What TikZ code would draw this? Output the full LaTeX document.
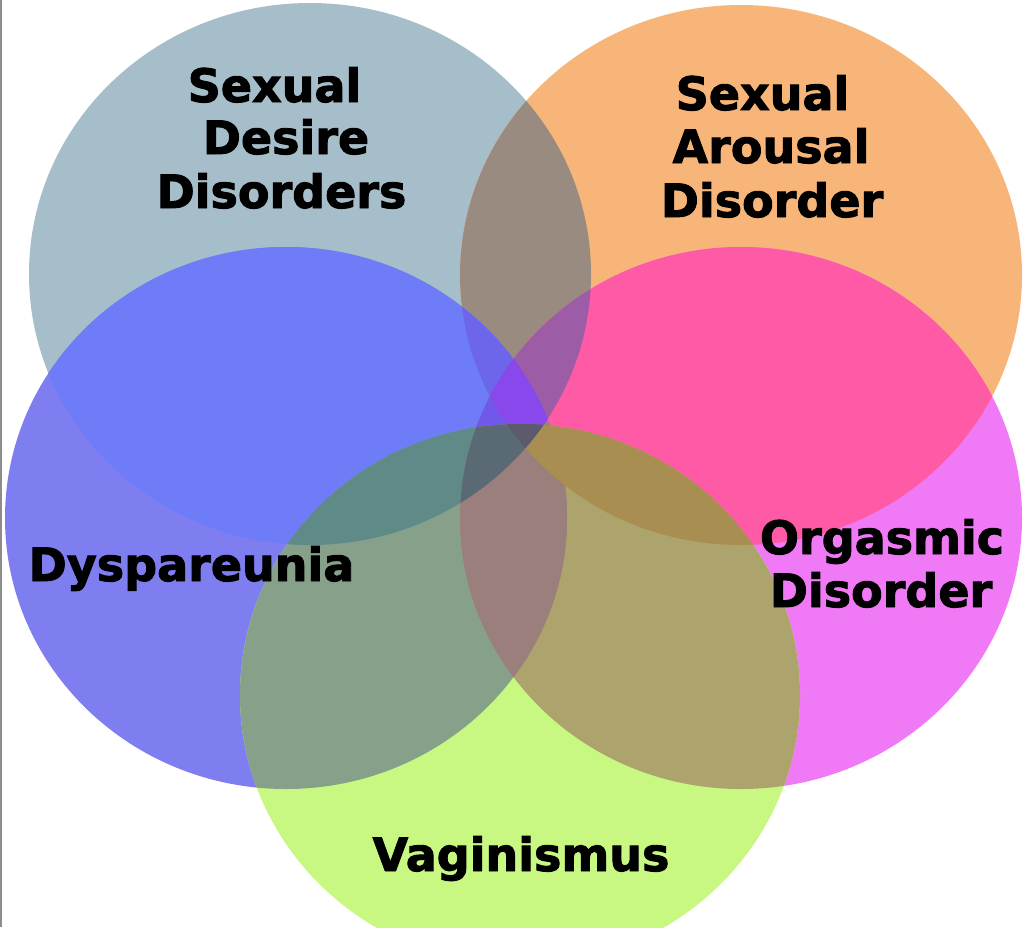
\documentclass[tikz,border=0pt]{standalone}
\usepackage{fontspec}
\setmainfont{DejaVu Sans}
\newfontfamily\lblfont{DejaVu Sans Bold}[FakeBold=2]
\begin{document}
\begin{tikzpicture}[x=1pt,y=-1pt,
  lbl/.style={font=\lblfont\fontsize{46}{53.5}\selectfont, text=black, inner sep=0pt, anchor=base}]
\definecolor{cG}{HTML}{A6BECA}
\definecolor{cO}{HTML}{F8B579}
\definecolor{cB}{HTML}{7F7EF1}
\definecolor{cP}{HTML}{F07AF6}
\definecolor{cV}{HTML}{C8F882}
\definecolor{cGO}{HTML}{9A8B80}
\definecolor{cGB}{HTML}{6F7CF8}
\definecolor{cOP}{HTML}{FF5AA6}
\definecolor{cBV}{HTML}{86A08A}
\definecolor{cPV}{HTML}{ACA46C}
\definecolor{cBP}{HTML}{9A7F7C}
\definecolor{cGOB}{HTML}{6E66EA}
\definecolor{cGOP}{HTML}{9C5CA6}
\definecolor{cGBV}{HTML}{5F8A87}
\definecolor{cOPV}{HTML}{A88E50}
\definecolor{cGBP}{HTML}{7058EA}
\definecolor{cGOBP}{HTML}{8848EC}
\definecolor{cGBPV}{HTML}{5A6A74}
\definecolor{cGOBPV}{HTML}{5C5A6C}
\def\cirG{(310,274) ellipse [x radius=281pt, y radius=271pt]}
\def\cirO{(741,275) ellipse [x radius=281pt, y radius=270pt]}
\def\cirB{(286,518) ellipse [x radius=281pt, y radius=271pt]}
\def\cirP{(741,518) ellipse [x radius=281pt, y radius=271pt]}
\def\cirV{(520,695) ellipse [x radius=280pt, y radius=271pt]}
\newcommand{\rgn}[3]{\begin{scope}#1\fill[#2] #3;\end{scope}}
\useasboundingbox (0,0) rectangle (1024,927);
\fill[white] (0,0) rectangle (1024,927);
\begin{scope}
\clip (0,0) rectangle (1024,927);
% single sets
\fill[cG] \cirG;
\fill[cO] \cirO;
\fill[cB] \cirB;
\fill[cP] \cirP;
\fill[cV] \cirV;
% pairs
\rgn{\clip \cirG;}{cGO}{\cirO}
\rgn{\clip \cirG;}{cGB}{\cirB}
\rgn{\clip \cirO;}{cOP}{\cirP}
\rgn{\clip \cirB;}{cBV}{\cirV}
\rgn{\clip \cirP;}{cPV}{\cirV}
\rgn{\clip \cirB;}{cBP}{\cirP}
% triples
\rgn{\clip \cirG;\clip \cirO;}{cGOB}{\cirB}
\rgn{\clip \cirG;\clip \cirO;}{cGOP}{\cirP}
\rgn{\clip \cirG;\clip \cirB;}{cGBP}{\cirP}
\rgn{\clip \cirG;\clip \cirB;}{cGBV}{\cirV}
\rgn{\clip \cirB;\clip \cirP;}{cBP}{\cirV}
\rgn{\clip \cirO;\clip \cirP;}{cOPV}{\cirV}
% quads
\rgn{\clip \cirG;\clip \cirO;\clip \cirB;}{cGOBP}{\cirP}
\rgn{\clip \cirG;\clip \cirB;\clip \cirP;}{cGBPV}{\cirV}
% all five
\rgn{\clip \cirG;\clip \cirO;\clip \cirB;\clip \cirP;}{cGOBPV}{\cirV}
\end{scope}
% left border line
\coordinate (lt) at (1,0);
\coordinate (lb) at (1,927);
\draw[line width=2pt, color=black!45] (lt) -- (lb);
% labels
\node[lbl] (sd1) at (274.5,102) {Sexual};
\node[lbl] (sd2) at (286,154) {Desire};
\node[lbl] (sd3) at (281.5,208) {Disorders};
\node[lbl] (sa1) at (762.5,110) {Sexual};
\node[lbl] (sa2) at (771,163) {Arousal};
\node[lbl] (sa3) at (772,217) {Disorder};
\node[lbl] (dy) at (191.5,581) {Dyspareunia};
\node[lbl] (or1) at (882,554) {Orgasmic};
\node[lbl] (or2) at (881,607) {Disorder};
\node[lbl] (va) at (521,871) {Vaginismus};
\end{tikzpicture}
\end{document}
